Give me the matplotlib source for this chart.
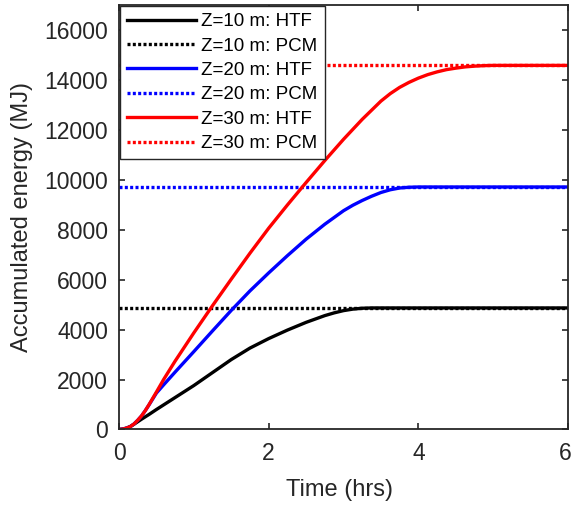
import matplotlib
matplotlib.use("Agg")
import matplotlib.pyplot as plt
import matplotlib.transforms as mtransforms

plt.rcParams["font.family"] = ["Liberation Sans", "DejaVu Sans"]

# Tempo (h) e energia acumulada (MJ)
t_10 = [0, 0.05, 0.1, 0.15, 0.2, 0.25, 0.3, 0.4, 0.5, 0.75, 1.0, 1.25, 1.5,
        1.75, 2.0, 2.25, 2.5, 2.75, 2.875, 3.0, 3.125, 3.25, 3.375, 6.0]
e_10 = [0, 15, 55, 115, 210, 310, 410, 600, 800, 1280, 1760, 2280, 2800,
        3260, 3640, 3980, 4290, 4560, 4670, 4760, 4820, 4855, 4867, 4867]

t_20 = [0, 0.05, 0.1, 0.15, 0.2, 0.25, 0.3, 0.35, 0.4, 0.5, 0.6, 0.75, 1.0,
        1.25, 1.5, 1.75, 2.0, 2.25, 2.5, 2.75, 3.0, 3.125, 3.25, 3.375, 3.5,
        3.625, 3.75, 3.875, 4.0, 6.0]
e_20 = [0, 15, 55, 115, 220, 370, 540, 750, 980, 1460, 1800, 2300, 3120,
        3950, 4770, 5550, 6270, 6960, 7620, 8220, 8760, 8980, 9170, 9340, 9490,
        9600, 9670, 9700, 9711, 9711]

t_30 = [0, 0.05, 0.1, 0.15, 0.2, 0.25, 0.3, 0.35, 0.4, 0.5, 0.6, 0.75, 1.0,
        1.25, 1.5, 1.75, 2.0, 2.25, 2.5, 2.75, 3.0, 3.25, 3.5, 3.625, 3.75,
        3.875, 4.0, 4.125, 4.25, 4.375, 4.5, 4.625, 4.75, 4.875, 5.0, 6.0]
e_30 = [0, 15, 55, 115, 220, 370, 540, 750, 990, 1500, 2020, 2740, 3870,
        4960, 6020, 7060, 8060, 8990, 9890, 10770, 11620, 12420, 13150, 13450,
        13700, 13900, 14070, 14210, 14320, 14410, 14470, 14520, 14550, 14570,
        14580, 14580]

pcm = [4867, 9711, 14598]
labels = ["Z=10 m", "Z=20 m", "Z=30 m"]
cores = ["black", "blue", "red"]

fig = plt.figure(figsize=(5.73, 5.07), dpi=100)
ax = fig.add_axes([0.2077, 0.1529, 0.7836, 0.8373])

series = [(t_10, e_10), (t_20, e_20), (t_30, e_30)]
for (t, e), nivel, lab, cor in zip(series, pcm, labels, cores):
    ax.plot(t, e, color=cor, lw=2.4, label=f"{lab}: HTF")
    ax.plot([0, 6], [nivel, nivel], color=cor, lw=2.4, linestyle=(0, (0.9, 0.7)),
            label=f"{lab}: PCM")

ax.set_xlim(0, 6)
ax.set_ylim(0, 17000)
ax.set_xticks([0, 2, 4, 6])
ax.set_yticks(range(0, 17000, 2000))
ax.tick_params(direction="in", top=True, right=True, length=4, width=1.2,
               labelsize=16.5, colors="#262626")
ax.tick_params(axis="x", pad=9)
ax.tick_params(axis="y", pad=8)
for s in ax.spines.values():
    s.set_linewidth(1.3)
    s.set_color("#262626")

# o ultimo rotulo do eixo x um pouco para a esquerda, para nao cortar
ultimo = ax.get_xticklabels()[-1]
ultimo.set_transform(ultimo.get_transform() +
                     mtransforms.ScaledTranslation(-3 / 100, 0, fig.dpi_scale_trans))

ax.set_xlabel("Time (hrs)", fontsize=17, color="#262626")
ax.set_ylabel("Accumulated energy (MJ)", fontsize=17, color="#262626")
ax.xaxis.set_label_coords(0.49, -0.117)
ax.yaxis.set_label_coords(-0.1915, 0.5)

leg = ax.legend(loc="upper left", fontsize=13.5, handlelength=3.68, labelspacing=0.39,
                borderaxespad=0.05, fancybox=False, framealpha=1, borderpad=0.38,
                handletextpad=0.27)
leg.get_frame().set_edgecolor("#262626")
leg.get_frame().set_linewidth(1.0)

plt.savefig("out.png", dpi=100)
